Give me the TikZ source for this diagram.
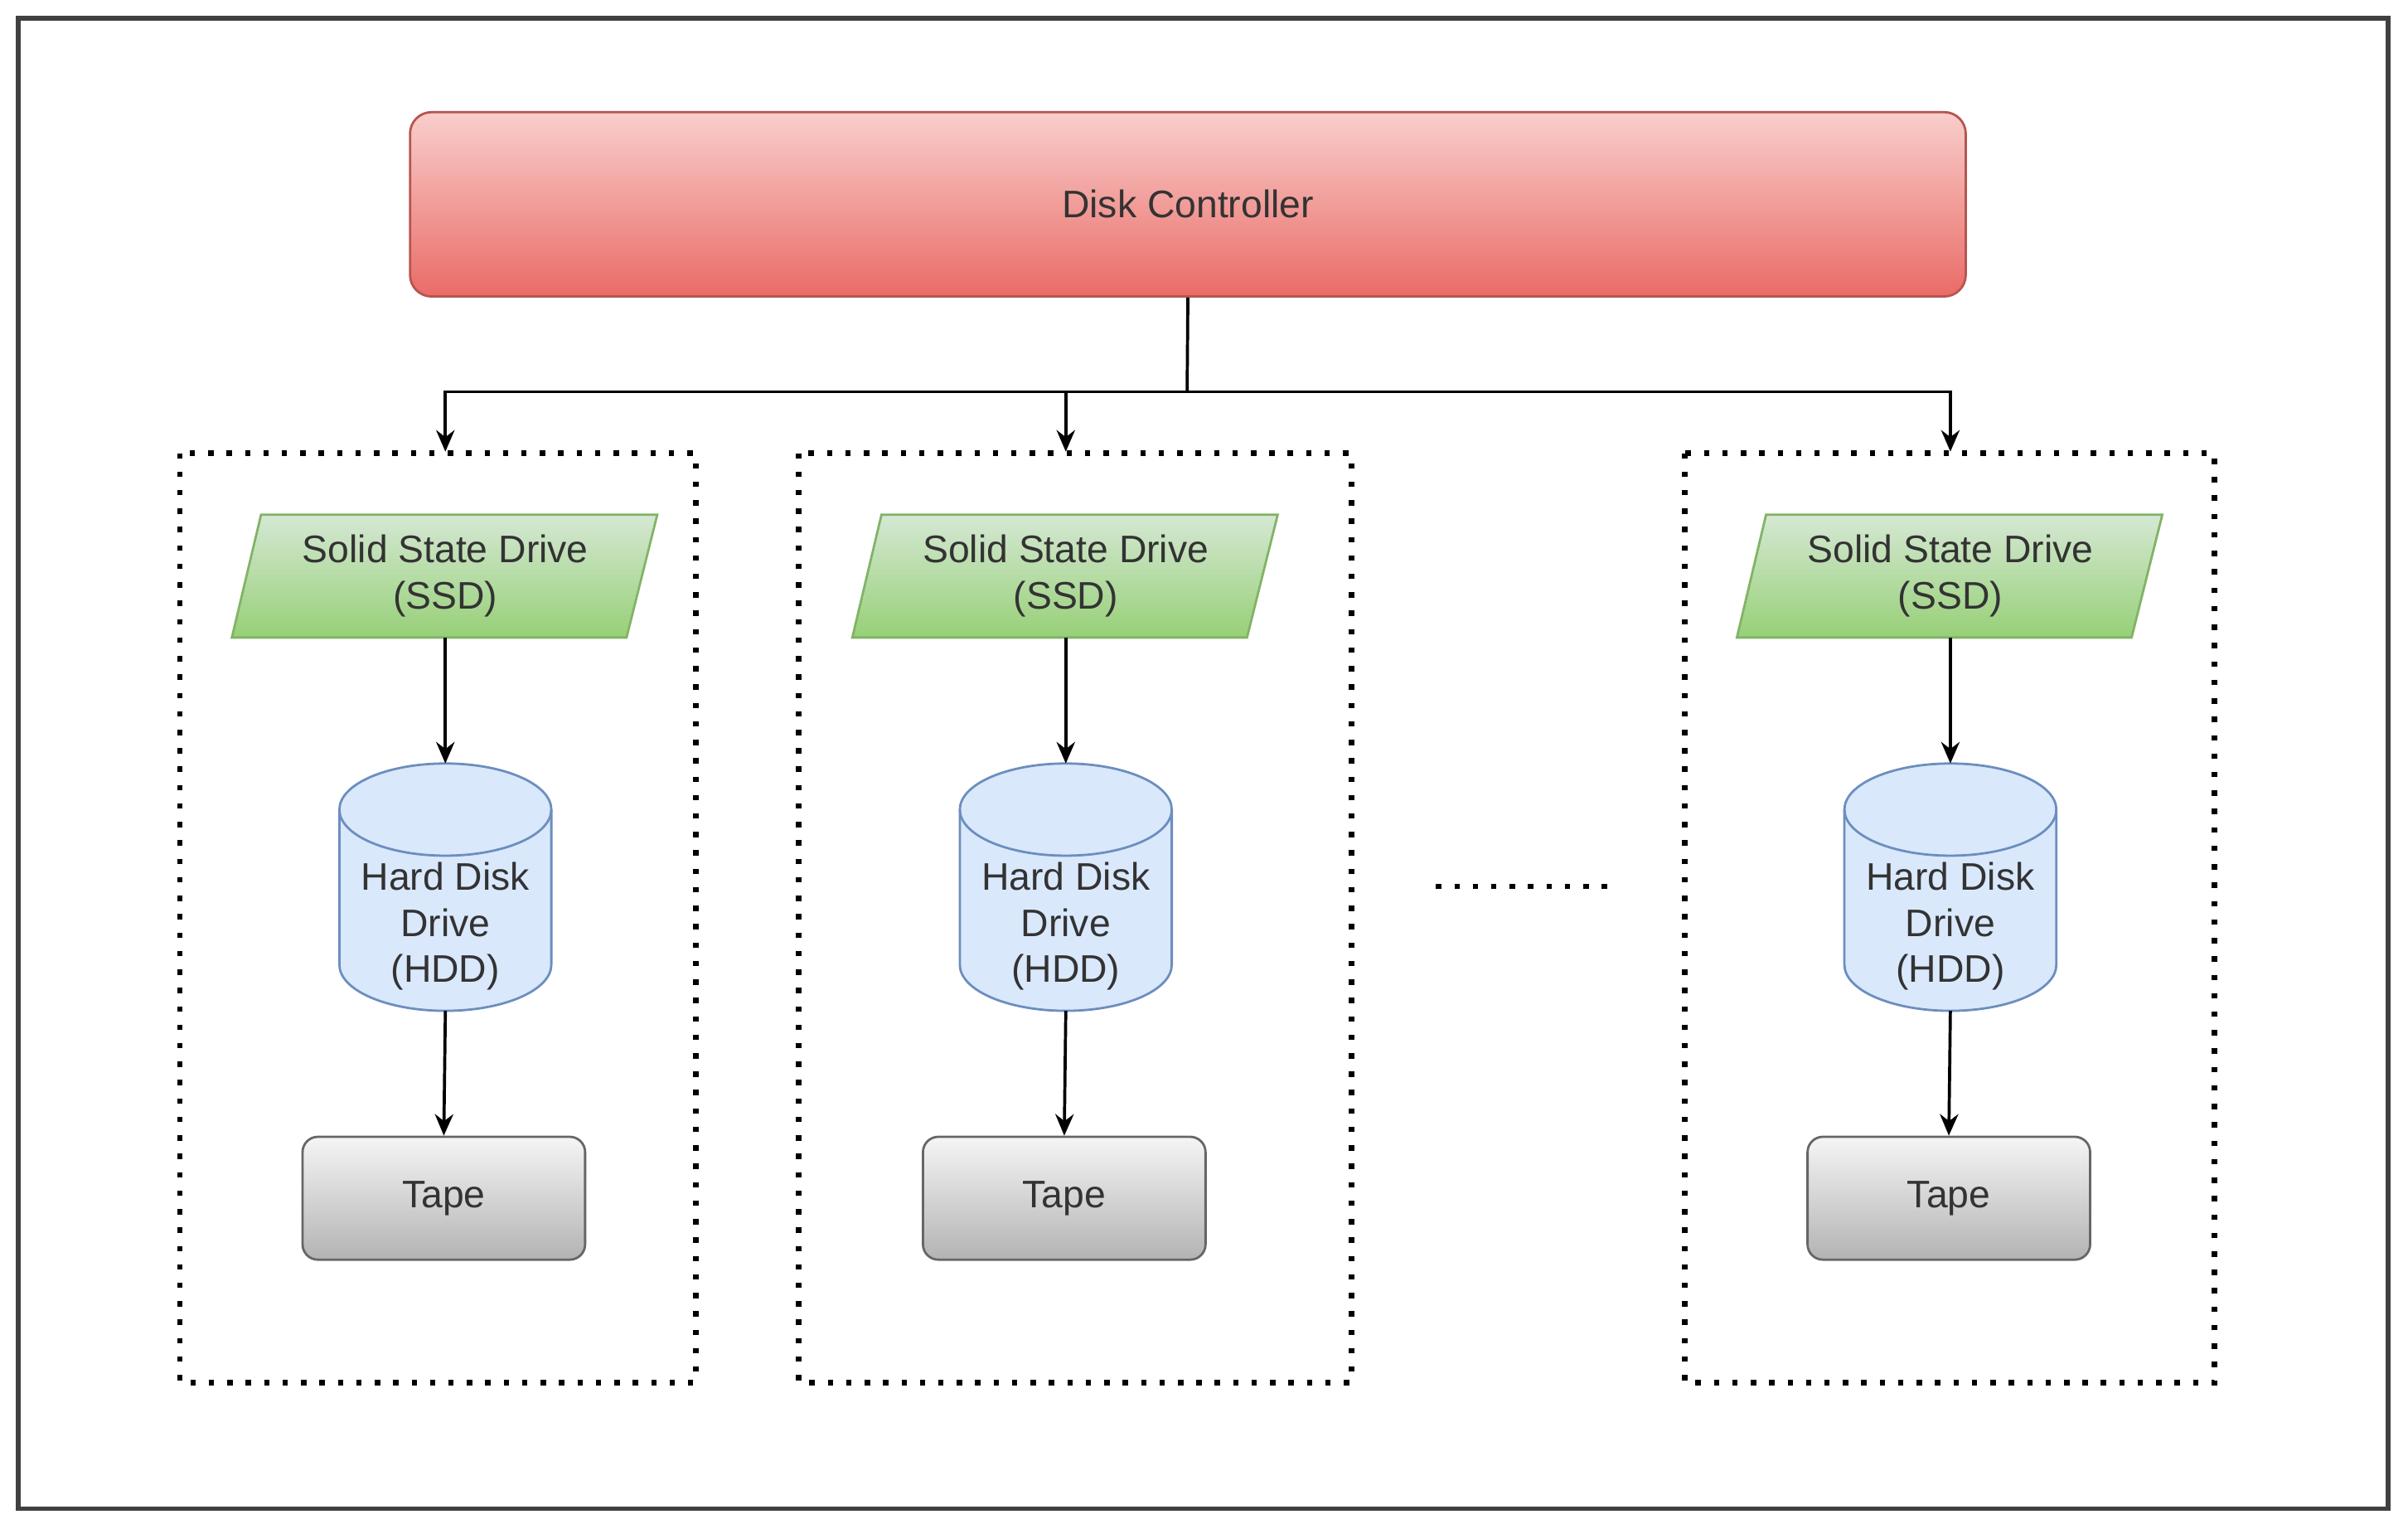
\documentclass[tikz,border=0pt]{standalone}
\usepackage{fontspec}
\setmainfont{Liberation Sans}
\usetikzlibrary{arrows.meta}
\definecolor{ctrlTop}{HTML}{F8CECC}
\definecolor{ctrlBot}{HTML}{EA6B66}
\definecolor{ctrlLine}{HTML}{B85450}
\definecolor{ssdTop}{HTML}{D5E8D4}
\definecolor{ssdBot}{HTML}{97D077}
\definecolor{ssdLine}{HTML}{82B366}
\definecolor{hddFill}{HTML}{DAE8FC}
\definecolor{hddLine}{HTML}{6C8EBF}
\definecolor{tapeTop}{HTML}{F5F5F5}
\definecolor{tapeBot}{HTML}{B3B3B3}
\definecolor{tapeLine}{HTML}{666666}
\definecolor{txt}{HTML}{333333}
\tikzset{
  dotbox/.style={line width=3.5pt, dash pattern=on 3.5pt off 8.5pt, draw=black},
  conn/.style={line width=2pt, ->},
  ctrlbox/.style={draw=ctrlLine, line width=1.5pt, rounded corners=14pt, top color=ctrlTop, bottom color=ctrlBot, minimum width=1013pt, minimum height=120pt, text=txt},
  ssdshape/.style={draw=ssdLine, line width=1.5pt, top color=ssdTop, bottom color=ssdBot},
  ssdtext/.style={minimum width=240pt, minimum height=80pt, align=center, text=txt},
  cylshape/.style={draw=hddLine, line width=1.5pt, fill=hddFill},
  cyltext/.style={align=center, text=txt},
  tapebox/.style={draw=tapeLine, line width=1.5pt, rounded corners=10pt, top color=tapeTop, bottom color=tapeBot, minimum width=184pt, minimum height=80pt, text=txt},
}
\begin{document}
\begin{tikzpicture}[x=1pt,y=-1pt, font=\fontsize{25}{30}\selectfont, >={Stealth[length=14pt,width=12pt]}]
\useasboundingbox (0,0) rectangle (1568,995);
\fill[white] (0,0) rectangle (1568,995);
\draw[line width=3pt, draw=black!75] (12,12) rectangle (1555,982);
\node[ctrlbox] (dc) at (773.5,133) {Disk Controller};
\coordinate (j) at (773,255);
\draw[line width=2pt] (dc.south) -- (j);
\foreach \cx/\l/\r [count=\i] in {290/117/453, 694/520/880, 1270/1097/1442} {
  \draw[dotbox] (\l,295) rectangle (\r,900);
  \draw[ssdshape] (\cx-120,335) -- (\cx+138,335) -- (\cx+118,415) -- (\cx-139,415) -- cycle;
  \node[ssdtext] (s\i) at (\cx,375) {Solid State Drive\\(SSD)};
  \draw[cylshape] (\cx-69,527) -- (\cx-69,628) arc[start angle=180,end angle=0,x radius=69,y radius=30]
     -- (\cx+69,527) arc[start angle=0,end angle=-180,x radius=69,y radius=30] -- cycle;
  \draw[draw=hddLine, line width=1.5pt] (\cx-69,527) arc[start angle=180,end angle=0,x radius=69,y radius=30];
  \coordinate (ct\i) at (\cx,497);
  \coordinate (cb\i) at (\cx,658);
  \node[cyltext] (h\i) at (\cx,603) {Hard Disk\\Drive\\(HDD)};
  \node[tapebox] (t\i) at (\cx-1,780) {Tape};
  \coordinate (a\i) at (\cx,294);
  \draw[conn] (s\i.south) -- (ct\i);
  \draw[conn] (cb\i) -- (t\i.north);
  \draw[conn] (j) -| (a\i);
}
\draw[dotbox] (935,577) -- (1052,577);
\end{tikzpicture}
\end{document}
